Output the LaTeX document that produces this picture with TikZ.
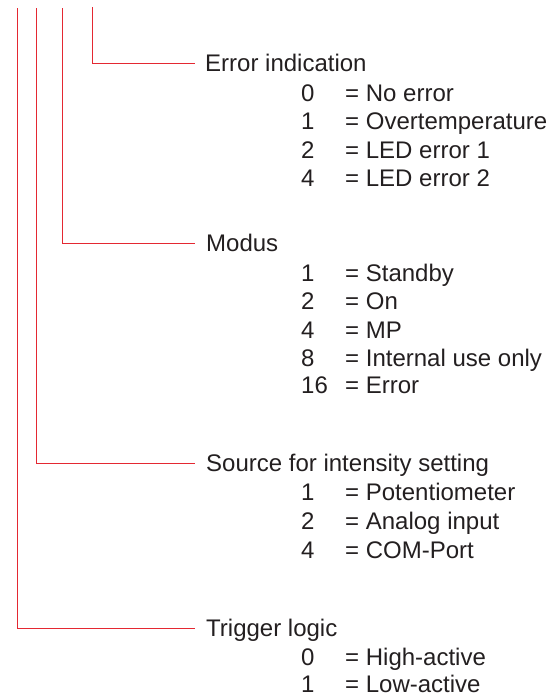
\documentclass[tikz,border=0pt]{standalone}
\usepackage{fontspec}
\setmainfont{Liberation Sans}
\definecolor{linered}{RGB}{228,40,50}
\definecolor{txt}{RGB}{35,31,32}
\begin{document}
\begin{tikzpicture}[x=1pt,y=-1pt,
  conn/.style={draw=linered,line width=0.9pt},
  head/.style={anchor=west,inner sep=0pt,text height=17pt,text depth=0pt,text=txt,font=\fontsize{24}{28}\selectfont},
  num/.style={head},
  val/.style={head}]
\useasboundingbox (0,0) rectangle (550,696);
% top ends of the vertical lines
\coordinate (t1) at (17,8);
\coordinate (t2) at (36,8);
\coordinate (t3) at (62,8);
\coordinate (t4) at (92,7);
% headings
\node[head] (err) at (205,63) {Error indication};
\node[head] (mod) at (206,243) {Modus};
\node[head] (src) at (206,463) {Source for intensity setting};
\node[head] (trg) at (206,628) {Trigger logic};
% connectors
\draw[conn] (t4) |- ([xshift=-10pt]err.west);
\draw[conn] (t3) |- ([xshift=-11pt]mod.west);
\draw[conn] (t2) |- ([xshift=-11pt]src.west);
\draw[conn] (t1) |- ([xshift=-11pt]trg.west);
% Error indication values
\node[num] (e0n) at (301,93) {0};   \node[val] (e0v) at (345,93) {= No error};
\node[num] (e1n) at (301,121) {1};  \node[val] (e1v) at (345,121) {= Overtemperature};
\node[num] (e2n) at (301,149.5) {2};\node[val] (e2v) at (345,149.5) {= LED error 1};
\node[num] (e4n) at (301,178) {4};  \node[val] (e4v) at (345,178) {= LED error 2};
% Modus values
\node[num] (m1n) at (301,273) {1};  \node[val] (m1v) at (345,273) {= Standby};
\node[num] (m2n) at (301,301) {2};  \node[val] (m2v) at (345,301) {= On};
\node[num] (m4n) at (301,329.5) {4};\node[val] (m4v) at (345,329.5) {= MP};
\node[num] (m8n) at (301,357.5) {8};\node[val] (m8v) at (345,357.5) {= Internal use only};
\node[num] (m16n) at (301,385) {16};\node[val] (m16v) at (345,385) {= Error};
% Source values
\node[num] (s1n) at (301,492) {1};  \node[val] (s1v) at (345,492) {= Potentiometer};
\node[num] (s2n) at (301,521) {2};  \node[val] (s2v) at (345,521) {= Analog input};
\node[num] (s4n) at (301,550) {4};  \node[val] (s4v) at (345,550) {= COM-Port};
% Trigger values
\node[num] (g0n) at (301,656.5) {0};  \node[val] (g0v) at (345,656.5) {= High-active};
\node[num] (g1n) at (301,683.5) {1};  \node[val] (g1v) at (345,683.5) {= Low-active};
\end{tikzpicture}
\end{document}
